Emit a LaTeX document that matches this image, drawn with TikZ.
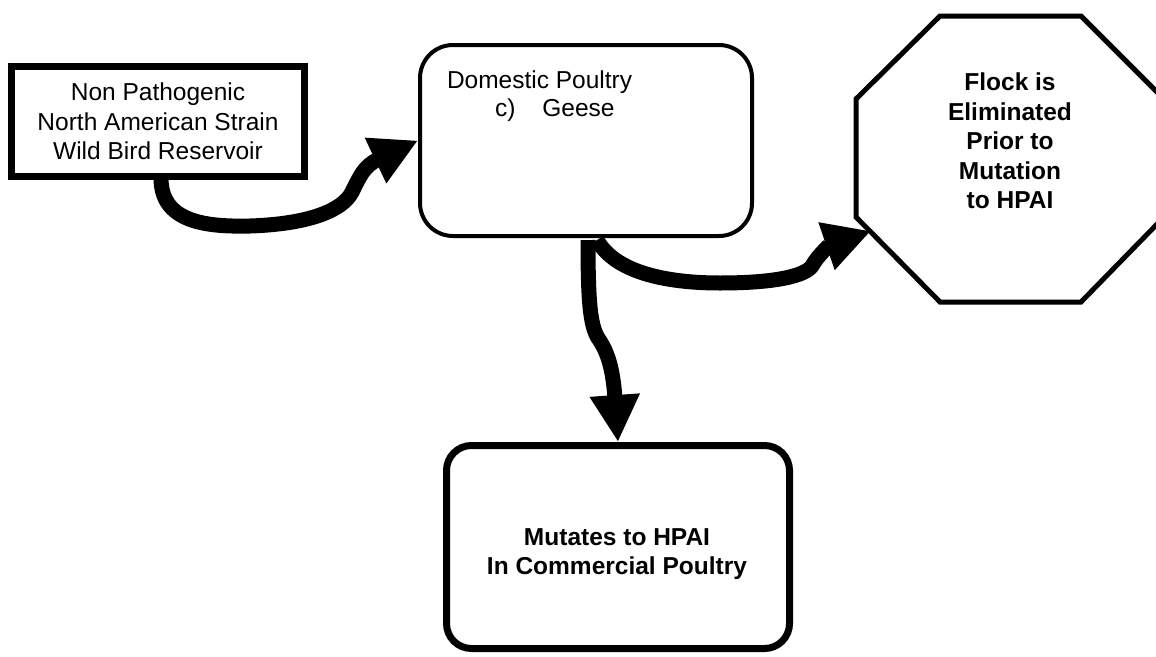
\documentclass[tikz,border=0pt]{standalone}
\usepackage{fontspec}
\setmainfont{Liberation Sans}
\usetikzlibrary{arrows.meta}
\tikzset{
  txt/.style={font=\fontsize{24.5}{29.5}\selectfont, inner sep=0pt, outer sep=0pt, align=center},
  btxt/.style={txt, font=\fontsize{24.5}{29.5}\selectfont\bfseries},
  sqbox/.style={draw=black, line width=7pt, fill=white, inner sep=0pt, outer sep=3.5pt, line join=miter},
  rbox/.style={draw=black, fill=white, inner sep=0pt},
  octline/.style={draw=black, line width=5pt, line join=miter, fill=white},
  flow/.style={draw=black, line width=15pt, line cap=butt, -{Triangle[length=47pt,width=47pt]}}
}
\begin{document}
\begin{tikzpicture}[x=1pt,y=-1pt]
\useasboundingbox (0,0) rectangle (1156,656);
\fill[white] (0,0) rectangle (1156,656);
\clip (0,0) rectangle (1156,656);

% octagon
\draw[octline] (856,99) -- (940,16) -- (1081,16) -- (1164,99) -- (1164,217) -- (1081,302) -- (940,302) -- (856,217) -- cycle;
\coordinate (octtip) at (871,231);
\node[btxt] (octtxt) at (1010,141) {Flock is\\Eliminated\\Prior to\\Mutation\\to HPAI};

% boxes
\node[sqbox, txt, minimum width=293pt, minimum height=110pt] (wild) at (158,121.5)
  {Non Pathogenic\\North American Strain\\Wild Bird Reservoir};
\node[rbox, line width=4pt, outer sep=2pt, rounded corners=33pt, minimum width=332pt, minimum height=191pt] (dom) at (586,140.5) {};
\node[txt, anchor=base west] (domt1) at (447,88.7) {Domestic Poultry};
\node[txt, anchor=base west] (domt2) at (495,116) {c)\hspace{27pt}Geese};

\node[rbox, line width=7pt, outer sep=3.5pt, rounded corners=25pt, minimum width=343pt, minimum height=203pt] (mut) at (618,547) {};
\node[btxt] (mutt) at (617,554) {Mutates to HPAI\\In Commercial Poultry};

% arrows
\draw[flow] ([xshift=3pt]wild.south) .. controls (160,222) and (205,227) .. (250,226)
  .. controls (310,224) and (343,210) .. (352,192)
  .. controls (360,176) and (364,166) .. (dom.west);
\draw[flow] ([xshift=11pt,yshift=-2pt]dom.south) .. controls (615,272) and (665,283) .. (720,283)
  .. controls (775,283) and (805,276) .. (812,266)
  .. controls (818,255) and (830,245) .. (octtip);
\draw[flow] ([xshift=2pt,yshift=-2pt]dom.south) .. controls (588,300) and (590,325) .. (598,338)
  .. controls (608,352) and (613,370) .. (mut.north);
\end{tikzpicture}
\end{document}
